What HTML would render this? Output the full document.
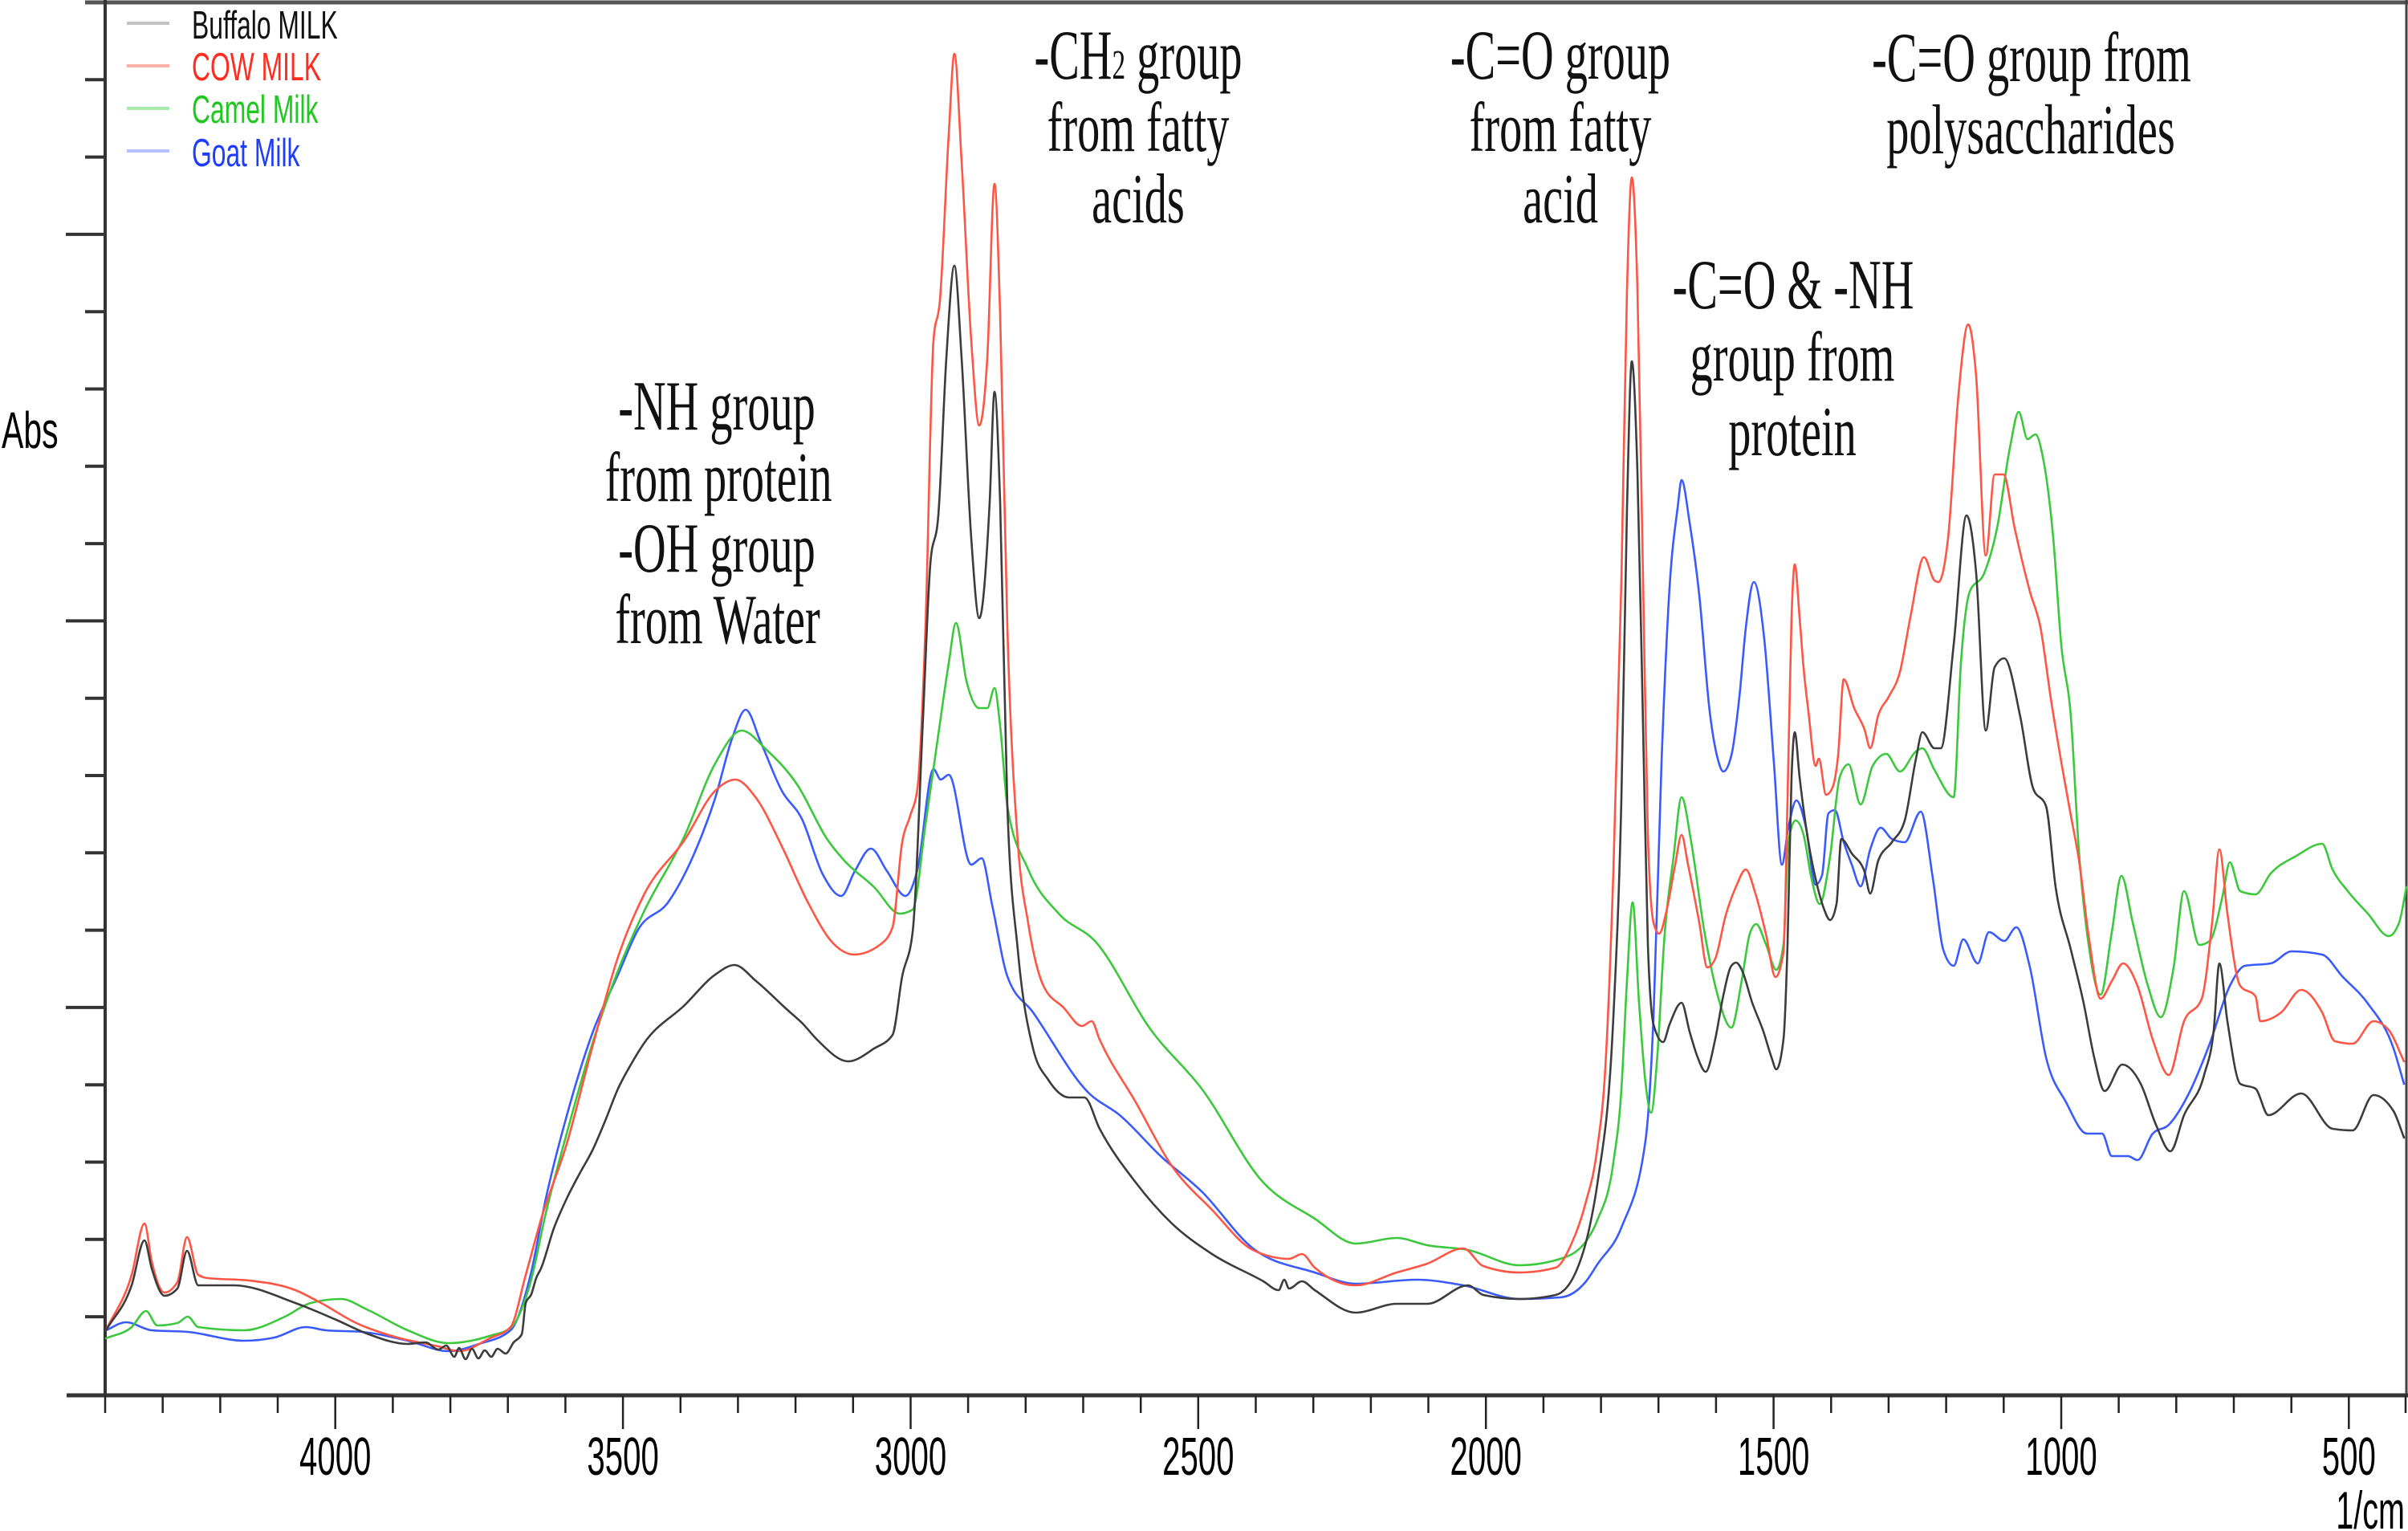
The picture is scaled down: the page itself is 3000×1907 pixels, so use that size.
<!DOCTYPE html>
<html>
<head>
<meta charset="utf-8">
<style>
html,body{margin:0;padding:0;background:#fff;}
svg{display:block;}
.ax{font-family:"Liberation Sans",sans-serif;fill:#000;}
.an{font-family:"Liberation Serif",serif;fill:#111;font-size:88px;}
.s{fill:none;stroke-width:2.6;stroke-linejoin:round;stroke-linecap:round;}
</style>
</head>
<body>
<svg id="chart" width="3000" height="1907" viewBox="0 0 3000 1907" xmlns="http://www.w3.org/2000/svg">
<rect x="0" y="0" width="3000" height="1907" fill="#fff"/>

<line x1="106" y1="3" x2="3000" y2="3" stroke="#555" stroke-width="5"/>
<line x1="2998" y1="0" x2="2998" y2="1738" stroke="#444" stroke-width="3"/>
<line x1="131" y1="0" x2="131" y2="1738" stroke="#333" stroke-width="4"/>
<line x1="83" y1="1738" x2="3000" y2="1738" stroke="#333" stroke-width="5"/>

<g stroke="#333" stroke-width="4">
<line x1="106" y1="99.3" x2="131" y2="99.3"/>
<line x1="106" y1="195.6" x2="131" y2="195.6"/>
<line x1="82" y1="291.9" x2="131" y2="291.9"/>
<line x1="106" y1="388.2" x2="131" y2="388.2"/>
<line x1="106" y1="484.5" x2="131" y2="484.5"/>
<line x1="106" y1="580.8" x2="131" y2="580.8"/>
<line x1="106" y1="677.1" x2="131" y2="677.1"/>
<line x1="82" y1="773.4" x2="131" y2="773.4"/>
<line x1="106" y1="869.7" x2="131" y2="869.7"/>
<line x1="106" y1="966" x2="131" y2="966"/>
<line x1="106" y1="1062.3" x2="131" y2="1062.3"/>
<line x1="106" y1="1158.6" x2="131" y2="1158.6"/>
<line x1="82" y1="1254.9" x2="131" y2="1254.9"/>
<line x1="106" y1="1351.2" x2="131" y2="1351.2"/>
<line x1="106" y1="1447.5" x2="131" y2="1447.5"/>
<line x1="106" y1="1543.8" x2="131" y2="1543.8"/>
<line x1="106" y1="1640.1" x2="131" y2="1640.1"/>
</g>

<g stroke="#222" stroke-width="2.5">
<line x1="131" y1="1738" x2="131" y2="1760"/>
<line x1="202.7" y1="1738" x2="202.7" y2="1760"/>
<line x1="274.4" y1="1738" x2="274.4" y2="1760"/>
<line x1="346" y1="1738" x2="346" y2="1760"/>
<line x1="417.7" y1="1738" x2="417.7" y2="1780"/>
<line x1="489.4" y1="1738" x2="489.4" y2="1760"/>
<line x1="561.1" y1="1738" x2="561.1" y2="1760"/>
<line x1="632.7" y1="1738" x2="632.7" y2="1760"/>
<line x1="704.4" y1="1738" x2="704.4" y2="1760"/>
<line x1="776.1" y1="1738" x2="776.1" y2="1780"/>
<line x1="847.8" y1="1738" x2="847.8" y2="1760"/>
<line x1="919.4" y1="1738" x2="919.4" y2="1760"/>
<line x1="991.1" y1="1738" x2="991.1" y2="1760"/>
<line x1="1062.8" y1="1738" x2="1062.8" y2="1760"/>
<line x1="1134.5" y1="1738" x2="1134.5" y2="1780"/>
<line x1="1206.1" y1="1738" x2="1206.1" y2="1760"/>
<line x1="1277.8" y1="1738" x2="1277.8" y2="1760"/>
<line x1="1349.5" y1="1738" x2="1349.5" y2="1760"/>
<line x1="1421.2" y1="1738" x2="1421.2" y2="1760"/>
<line x1="1492.8" y1="1738" x2="1492.8" y2="1780"/>
<line x1="1564.5" y1="1738" x2="1564.5" y2="1760"/>
<line x1="1636.2" y1="1738" x2="1636.2" y2="1760"/>
<line x1="1707.9" y1="1738" x2="1707.9" y2="1760"/>
<line x1="1779.5" y1="1738" x2="1779.5" y2="1760"/>
<line x1="1851.2" y1="1738" x2="1851.2" y2="1780"/>
<line x1="1922.9" y1="1738" x2="1922.9" y2="1760"/>
<line x1="1994.6" y1="1738" x2="1994.6" y2="1760"/>
<line x1="2066.2" y1="1738" x2="2066.2" y2="1760"/>
<line x1="2137.9" y1="1738" x2="2137.9" y2="1760"/>
<line x1="2209.6" y1="1738" x2="2209.6" y2="1780"/>
<line x1="2281.3" y1="1738" x2="2281.3" y2="1760"/>
<line x1="2352.9" y1="1738" x2="2352.9" y2="1760"/>
<line x1="2424.6" y1="1738" x2="2424.6" y2="1760"/>
<line x1="2496.3" y1="1738" x2="2496.3" y2="1760"/>
<line x1="2568" y1="1738" x2="2568" y2="1780"/>
<line x1="2639.6" y1="1738" x2="2639.6" y2="1760"/>
<line x1="2711.3" y1="1738" x2="2711.3" y2="1760"/>
<line x1="2783" y1="1738" x2="2783" y2="1760"/>
<line x1="2854.7" y1="1738" x2="2854.7" y2="1760"/>
<line x1="2926.3" y1="1738" x2="2926.3" y2="1780"/>
<line x1="2997" y1="1738" x2="2997" y2="1760"/>
</g>

<g class="ax" font-size="67" text-anchor="middle">
<text transform="translate(417.7,1837) scale(0.6,1)">4000</text>
<text transform="translate(776.1,1837) scale(0.6,1)">3500</text>
<text transform="translate(1134.5,1837) scale(0.6,1)">3000</text>
<text transform="translate(1492.8,1837) scale(0.6,1)">2500</text>
<text transform="translate(1851.2,1837) scale(0.6,1)">2000</text>
<text transform="translate(2209.6,1837) scale(0.6,1)">1500</text>
<text transform="translate(2568,1837) scale(0.6,1)">1000</text>
<text transform="translate(2926.3,1837) scale(0.6,1)">500</text>
</g>
<text class="ax" font-size="66" text-anchor="end" transform="translate(2996,1904) scale(0.6,1)">1/cm</text>
<text class="ax" font-size="64" transform="translate(2,558) scale(0.64,1)">Abs</text>

<g stroke-width="4">
<line x1="158" y1="29" x2="211" y2="29" stroke="#c4c4c4"/>
<line x1="158" y1="82" x2="211" y2="82" stroke="#ffb0a6"/>
<line x1="158" y1="135" x2="211" y2="135" stroke="#a8eaa8"/>
<line x1="158" y1="188" x2="211" y2="188" stroke="#b4c2ff"/>
</g>
<g font-family="Liberation Sans, sans-serif" font-size="49">
<text transform="translate(239,48) scale(0.65,1)" fill="#111">Buffalo MILK</text>
<text transform="translate(239,100) scale(0.65,1)" fill="#ff2d1e">COW MILK</text>
<text transform="translate(239,153) scale(0.65,1)" fill="#1ec81e">Camel Milk</text>
<text transform="translate(239,207) scale(0.65,1)" fill="#1e3cff">Goat Milk</text>
</g>

<g class="an" text-anchor="middle">
<text transform="translate(893,535) scale(0.64,1)">-NH group</text>
<text transform="translate(895,624) scale(0.64,1)">from protein</text>
<text transform="translate(893,712) scale(0.64,1)">-OH group</text>
<text transform="translate(894,801) scale(0.64,1)">from Water</text>
<text transform="translate(1418,98) scale(0.64,1)">-CH<tspan font-size="52">2</tspan> group</text>
<text transform="translate(1418,188) scale(0.64,1)">from fatty</text>
<text transform="translate(1418,277) scale(0.64,1)">acids</text>
<text transform="translate(1944,98) scale(0.64,1)">-C=O group</text>
<text transform="translate(1944,188) scale(0.64,1)">from fatty</text>
<text transform="translate(1944,277) scale(0.64,1)">acid</text>
<text transform="translate(2234,384) scale(0.64,1)">-C=O &amp; -NH</text>
<text transform="translate(2233,474) scale(0.64,1)">group from</text>
<text transform="translate(2233,567) scale(0.64,1)">protein</text>
<text transform="translate(2531,101) scale(0.64,1)">-C=O group from</text>
<text transform="translate(2530,191) scale(0.64,1)">polysaccharides</text>
</g>

<polyline class="s" stroke="#3a5aff" points="132,1657 157,1647 189,1657 234,1659 304,1670 342,1666 381,1653 406,1657 451,1659 508,1670 559,1683 597,1674 636,1657 661,1588 680,1493 706,1390 738,1287 770,1214 795,1158 833,1123 865,1063 891,994 913,917 929,884 948,925 974,985 999,1020 1025,1089 1048,1116 1065,1085 1085,1057 1105,1085 1128,1116 1143,1083 1163,958 1172,971 1182,965 1210,1077 1223,1069 1236,1127 1255,1216 1287,1261 1357,1362 1395,1389 1446,1440 1497,1484 1561,1555 1638,1585 1689,1599 1765,1594 1823,1601 1893,1618 1944,1616 1976,1596 1990,1575 2020,1529 2050,1421 2060,1267 2070,950 2080,732 2090,633 2095,598 2105,651 2117,741 2130,886 2140,945 2147,961 2157,941 2167,868 2175,782 2185,725 2198,796 2210,950 2220,1077 2228,1031 2238,997 2250,1031 2262,1102 2270,1090 2278,1013 2286,1009 2297,1049 2307,1077 2318,1104 2330,1058 2343,1031 2357,1045 2373,1049 2393,1011 2408,1094 2421,1183 2434,1203 2446,1170 2464,1200 2478,1161 2497,1172 2512,1155 2529,1205 2549,1317 2574,1373 2600,1412 2619,1412 2631,1440 2651,1440 2663,1445 2682,1412 2702,1401 2727,1362 2753,1300 2778,1228 2797,1203 2829,1200 2855,1185 2893,1189 2918,1216 2950,1250 2982,1306 2995,1350"/>

<polyline class="s" stroke="#3cc83c" points="132,1667 164,1653 182,1633 196,1651 221,1648 234,1640 247,1653 304,1657 355,1640 387,1623 425,1618 457,1631 508,1657 559,1673 610,1664 636,1654 661,1597 680,1511 706,1412 738,1300 770,1209 802,1136 853,1041 891,951 924,910 955,934 993,977 1031,1046 1051,1071 1089,1105 1121,1138 1137,1133 1153,1027 1169,915 1182,826 1191,776 1204,848 1220,882 1230,882 1239,857 1246,904 1255,1004 1281,1083 1319,1138 1364,1172 1434,1283 1497,1356 1574,1473 1638,1518 1689,1549 1740,1542 1778,1551 1829,1557 1893,1576 1944,1568 1976,1546 1990,1520 2010,1448 2020,1357 2027,1221 2034,1124 2042,1249 2050,1348 2057,1386 2065,1312 2073,1176 2085,1067 2095,993 2107,1049 2123,1158 2140,1240 2157,1280 2170,1221 2180,1163 2188,1151 2200,1176 2213,1208 2222,1176 2228,1049 2237,1022 2247,1040 2257,1095 2267,1126 2280,1067 2292,968 2303,952 2318,1002 2333,954 2350,939 2367,961 2387,936 2395,932 2410,959 2434,993 2443,826 2454,737 2472,714 2488,658 2504,558 2515,513 2526,547 2536,541 2545,569 2558,670 2568,803 2580,893 2590,1060 2603,1183 2617,1239 2631,1161 2643,1091 2657,1149 2676,1228 2692,1267 2708,1205 2721,1110 2740,1177 2753,1172 2769,1116 2778,1074 2791,1110 2810,1114 2829,1088 2861,1066 2893,1051 2906,1083 2925,1110 2950,1138 2976,1166 2989,1149 2998,1105"/>

<polyline class="s" stroke="#ff5544" points="132,1657 164,1588 180,1524 189,1571 205,1610 221,1597 233,1541 247,1588 259,1592 310,1595 368,1607 400,1623 444,1648 495,1666 546,1677 572,1683 610,1667 636,1653 655,1588 674,1519 706,1425 738,1304 770,1192 802,1115 853,1046 891,985 916,971 942,994 974,1054 1006,1123 1038,1175 1064,1189 1096,1177 1112,1155 1124,1049 1134,1016 1143,982 1153,781 1163,424 1171,374 1182,167 1189,67 1198,201 1210,424 1220,530 1230,446 1239,229 1246,391 1255,781 1268,1049 1281,1150 1300,1228 1325,1255 1348,1278 1360,1272 1370,1295 1415,1373 1459,1451 1510,1507 1561,1557 1606,1568 1622,1562 1638,1579 1689,1601 1740,1585 1778,1574 1823,1555 1848,1577 1893,1585 1938,1579 1957,1551 1975,1500 1990,1430 2000,1330 2010,1086 2020,723 2027,361 2033,221 2040,361 2047,723 2053,1040 2060,1149 2067,1163 2077,1131 2087,1077 2095,1040 2103,1077 2117,1149 2127,1205 2137,1194 2150,1140 2163,1104 2175,1083 2187,1113 2200,1163 2212,1217 2222,1185 2227,995 2232,769 2236,703 2242,769 2247,832 2253,886 2262,954 2266,945 2275,990 2283,981 2290,941 2297,846 2310,882 2323,909 2330,932 2340,891 2353,868 2367,837 2380,769 2397,694 2410,723 2415,725 2427,670 2440,491 2452,404 2462,469 2474,692 2485,591 2496,591 2510,658 2529,737 2542,781 2555,870 2568,949 2580,1016 2590,1071 2603,1172 2617,1244 2631,1222 2645,1200 2663,1228 2682,1295 2702,1339 2721,1272 2743,1244 2756,1149 2765,1058 2775,1138 2791,1228 2810,1241 2816,1272 2842,1261 2867,1233 2893,1261 2909,1297 2931,1300 2957,1272 2976,1283 2995,1322"/>

<polyline class="s" stroke="#3c3c3c" points="132,1657 164,1601 180,1545 189,1580 205,1614 221,1605 233,1558 247,1601 291,1601 368,1623 419,1644 457,1661 508,1674 530,1672 546,1681 556,1676 566,1690 572,1679 580,1693 588,1680 596,1692 604,1682 612,1690 620,1680 630,1686 640,1672 650,1662 655,1623 662,1612 668,1592 674,1580 690,1530 706,1493 722,1462 738,1433 754,1396 770,1356 786,1326 802,1300 853,1252 891,1214 915,1202 942,1222 980,1257 1000,1275 1018,1295 1057,1322 1089,1306 1112,1289 1124,1216 1137,1161 1150,893 1159,703 1169,642 1179,446 1189,331 1198,446 1210,670 1220,770 1233,625 1239,488 1246,625 1255,1004 1268,1183 1287,1306 1306,1345 1332,1367 1351,1367 1370,1406 1415,1473 1459,1523 1510,1562 1574,1596 1593,1607 1600,1594 1606,1605 1622,1596 1638,1607 1689,1635 1740,1624 1778,1624 1829,1601 1848,1613 1893,1618 1938,1613 1963,1585 1980,1530 1990,1475 2010,1267 2020,995 2027,633 2033,450 2040,588 2047,904 2053,1176 2060,1276 2072,1298 2080,1276 2095,1249 2105,1285 2115,1317 2125,1335 2137,1294 2147,1240 2157,1203 2163,1199 2170,1208 2183,1249 2197,1285 2207,1317 2213,1332 2222,1294 2227,1176 2232,968 2236,912 2242,968 2253,1049 2263,1099 2272,1131 2280,1146 2288,1126 2294,1045 2307,1063 2323,1086 2330,1113 2340,1072 2357,1049 2373,1022 2387,945 2395,912 2410,932 2418,932 2434,803 2450,642 2462,714 2474,910 2485,831 2497,820 2517,893 2533,982 2549,1004 2561,1105 2580,1183 2596,1250 2609,1317 2622,1359 2644,1326 2667,1350 2686,1401 2704,1434 2721,1389 2746,1339 2758,1283 2765,1200 2775,1272 2791,1350 2810,1356 2826,1389 2867,1362 2906,1406 2931,1408 2957,1364 2982,1384 2995,1417"/>
</svg>
<script>
(function(){
  var NS="http://www.w3.org/2000/svg";
  var lines=document.querySelectorAll("polyline.s");
  for(var k=0;k<lines.length;k++){
    var pl=lines[k];
    var raw=pl.getAttribute("points").trim().split(/\s+/);
    var X=[],Y=[];
    for(var i=0;i<raw.length;i++){var p=raw[i].split(",");X.push(+p[0]);Y.push(+p[1]);}
    var n=X.length;
    if(n<3)continue;
    var h=[],s=[];
    for(var i=0;i<n-1;i++){h.push(X[i+1]-X[i]);s.push((Y[i+1]-Y[i])/(h[i]||1));}
    var t=new Array(n);
    t[0]=s[0];t[n-1]=s[n-2];
    for(var i=1;i<n-1;i++){
      var s0=s[i-1],s1=s[i],h0=h[i-1],h1=h[i];
      var p=(s0*h1+s1*h0)/(h0+h1);
      var sg=(s0>0?1:(s0<0?-1:0))+(s1>0?1:(s1<0?-1:0));
      t[i]=sg*Math.min(Math.abs(s0),Math.abs(s1),0.5*Math.abs(p))||0;
    }
    var d="M"+X[0]+","+Y[0];
    for(var i=0;i<n-1;i++){
      var dx=h[i]/3;
      d+="C"+(X[i]+dx).toFixed(2)+","+(Y[i]+t[i]*dx).toFixed(2)+" "+(X[i+1]-dx).toFixed(2)+","+(Y[i+1]-t[i+1]*dx).toFixed(2)+" "+X[i+1]+","+Y[i+1];
    }
    var path=document.createElementNS(NS,"path");
    path.setAttribute("d",d);
    path.setAttribute("class","s");
    path.setAttribute("stroke",pl.getAttribute("stroke"));
    path.setAttribute("fill","none");
    pl.parentNode.replaceChild(path,pl);
  }
})();
</script>
</body>
</html>
